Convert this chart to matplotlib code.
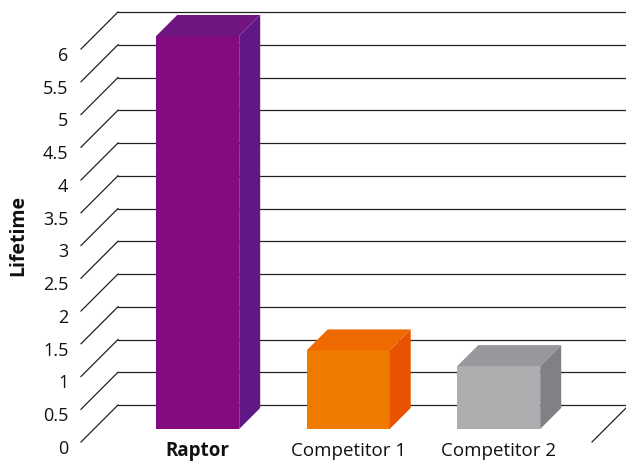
import matplotlib

matplotlib.use("Agg")

import matplotlib.pyplot as plt
import matplotlib.transforms as mtransforms
import numpy as np
from matplotlib.patches import Polygon

categories = ["Raptor", "Competitor 1", "Competitor 2"]
lifetime = [6.0, 1.2, 0.96]
y_ticks = np.arange(0, 6.01, 0.5)
tick_labels = ["0", "0.5", "1", "1.5", "2", "2.5", "3", "3.5", "4", "4.5", "5", "5.5", "6"]

front_colors = ["#820b82", "#ee7b00", "#aeaeb1"]
top_colors = ["#6f1480", "#ee6a00", "#98989c"]
side_colors = ["#601884", "#e85200", "#818185"]

W, H = 626, 463
X_UNIT = 150.5      # px per category
Y_UNIT = 65.5       # px per value unit
X0_PX = 184.7       # front-plane px of category 0
Y0_PX = 442         # front-plane px (from top) of value 0
WALL_DEPTH = 37     # px
BAR_FRONT = 13      # px depth of bar front face
BAR_DEPTH = 21      # px
BAR_WIDTH = 83 / X_UNIT
FLOOR_LEFT = (81 - X0_PX) / X_UNIT
FLOOR_RIGHT = (592 - X0_PX) / X_UNIT

plt.rcParams["font.family"] = ["Open Sans", "DejaVu Sans"]

fig = plt.figure(figsize=(W / 100, H / 100), dpi=100)
ax = fig.add_axes([0, 0, 1, 1])
ax.set_xlim(-X0_PX / X_UNIT, (W - X0_PX) / X_UNIT)
ax.set_ylim(-(H - Y0_PX) / Y_UNIT, Y0_PX / Y_UNIT)
ax.axis("off")


def depth(p):
    """Convert a depth in px to (dx, dy) in data units."""
    return p / X_UNIT, p / Y_UNIT


# walls / gridlines
dx, dy = depth(WALL_DEPTH)
for v in y_ticks:
    ax.plot([FLOOR_LEFT, FLOOR_LEFT + dx], [v, v + dy], color="#222222", lw=0.9, zorder=1)
    ax.plot([FLOOR_LEFT + dx, FLOOR_RIGHT + dx], [v + dy, v + dy], color="#222222", lw=0.9, zorder=1)
ax.plot([FLOOR_RIGHT, FLOOR_RIGHT + dx], [0, dy], color="#222222", lw=0.9, zorder=1)

# bars
fdx, fdy = depth(BAR_FRONT)
bdx, bdy = depth(BAR_DEPTH)
for i, val in enumerate(lifetime):
    x0 = i - BAR_WIDTH / 2 + fdx
    x1 = i + BAR_WIDTH / 2 + fdx
    yb = fdy
    yt = val + fdy
    front = Polygon([(x0, yb), (x1, yb), (x1, yt), (x0, yt)], closed=True,
                    facecolor=front_colors[i], edgecolor="none", zorder=3)
    top = Polygon([(x0, yt), (x1, yt), (x1 + bdx, yt + bdy), (x0 + bdx, yt + bdy)], closed=True,
                  facecolor=top_colors[i], edgecolor="none", zorder=3)
    side = Polygon([(x1, yb), (x1 + bdx, yb + bdy), (x1 + bdx, yt + bdy), (x1, yt)], closed=True,
                   facecolor=side_colors[i], edgecolor="none", zorder=3)
    for p in (front, top, side):
        ax.add_patch(p)

# tick labels
label_shift = mtransforms.ScaledTranslation(-9 / 72, -5 / 72, fig.dpi_scale_trans)
for v, lab in zip(y_ticks, tick_labels):
    ax.text(FLOOR_LEFT, v, lab, ha="right", va="center", fontsize=13,
            color="#111111", transform=ax.transData + label_shift)

# category labels
for i, cat in enumerate(categories):
    ax.text(i + fdx, -14 / Y_UNIT, cat, ha="center", va="baseline", fontsize=13.5,
            fontweight="bold" if i == 0 else "normal", color="#111111")

fig.text(18 / W, 1 - 235 / H, "Lifetime", rotation=90, ha="center", va="center",
         fontsize=14, fontweight="bold", color="#111111")

fig.savefig("out.png", dpi=100)
